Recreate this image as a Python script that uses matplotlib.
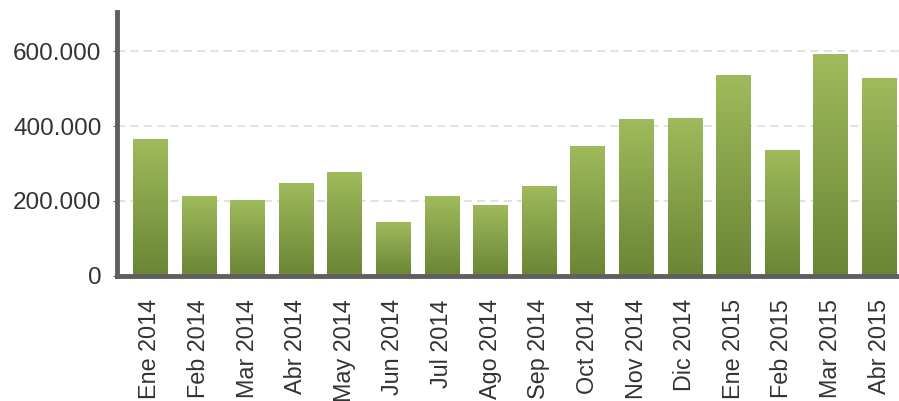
import numpy as np
import matplotlib.pyplot as plt
from matplotlib.colors import LinearSegmentedColormap
from matplotlib.ticker import FuncFormatter

plt.rcParams['font.family'] = ['Liberation Sans', 'DejaVu Sans']

# Monthly values
months = ['Ene 2014', 'Feb 2014', 'Mar 2014', 'Abr 2014', 'May 2014', 'Jun 2014',
          'Jul 2014', 'Ago 2014', 'Sep 2014', 'Oct 2014', 'Nov 2014', 'Dic 2014',
          'Ene 2015', 'Feb 2015', 'Mar 2015', 'Abr 2015']
values = [366000, 214000, 203000, 249000, 278000, 144000,
          214000, 190000, 241000, 348000, 420000, 423000,
          536000, 335000, 592000, 530000]
yticks = [0, 200000, 400000, 600000]

fig = plt.figure(figsize=(8.99, 4.01), dpi=100)
ax = fig.add_axes([0.130, 0.3125, 0.870, 0.658])

# gradient fill for bars: light on top, darker at the bottom
cmap = LinearSegmentedColormap.from_list('grn', ['#6a8535', '#9fbb5b'])
grad = np.linspace(0, 1, 256).reshape(-1, 1)

x = np.arange(len(months))
bars = ax.bar(x, values, width=0.7, color='none', edgecolor='none', zorder=3)
for b in bars:
    x0, w, h = b.get_x(), b.get_width(), b.get_height()
    im = ax.imshow(grad, cmap=cmap, aspect='auto', origin='lower',
                   extent=[x0, x0 + w, 0, h], zorder=3)
    im.set_clip_path(b)

ax.set_xlim(-0.68, 15.41)
ax.set_ylim(0, 706000)
ax.set_xticks(x)
ax.set_xticklabels(months, rotation=90, fontsize=16.8, color='#333333')
ax.set_yticks(yticks)
ax.yaxis.set_major_formatter(FuncFormatter(lambda v, p: f'{int(v):,}'.replace(',', '.')))
ax.tick_params(axis='y', labelsize=17.5, labelcolor='#333333', length=3,
               color='#606060', pad=8)
ax.tick_params(axis='x', length=0, pad=17)

# dashed grid
for yv in yticks[1:]:
    ax.axhline(yv, color='#dddddd', linestyle=(0, (5, 3)), linewidth=1.2, zorder=1)

for s in ['top', 'right']:
    ax.spines[s].set_visible(False)
ax.spines['left'].set_color('#5f5f5f')
ax.spines['left'].set_linewidth(3.5)
ax.spines['bottom'].set_color('#5f5f5f')
ax.spines['bottom'].set_linewidth(3.5)
ax.spines['bottom'].set_zorder(4)

fig.savefig('out.png', dpi=100)
